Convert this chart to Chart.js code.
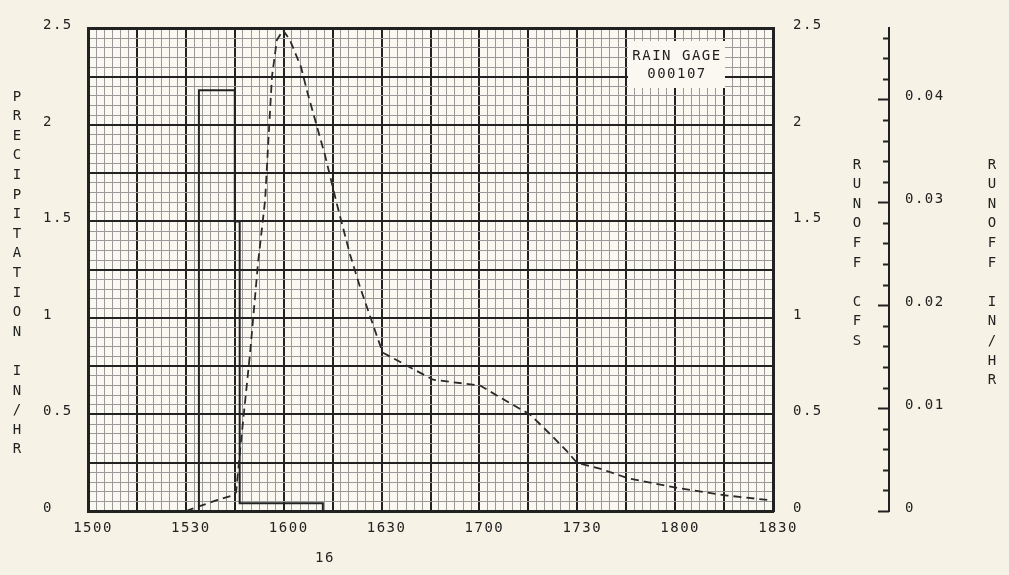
<!DOCTYPE html>
<html>
<head>
<meta charset="utf-8">
<title>Rain gage 000107</title>
<script src="https://cdn.jsdelivr.net/npm/chart.js@4/dist/chart.umd.min.js"></script>
<style>
    html, body { margin: 0; padding: 0; background: #f6f3e6; }
    #chart { display: block; }
</style>
</head>
<body>
<canvas id="chart" width="1009" height="575"></canvas>
<script>
// x values are minutes after 15:00
const xTickLabels = ['1500', '1530', '1600', '1630', '1700', '1730', '1800', '1830'];
const yTickLabels = ['0', '0.5', '1', '1.5', '2', '2.5'];
const y3TickLabels = ['0', '0.01', '0.02', '0.03', '0.04'];

// precipitation, in/hr (stepped)
const precipTimes = [34, 34, 45, 46.5, 72];
const precipValues = [0, 2.18, 1.5, 0.04, 0];

// runoff, cfs
const runoffTimes = [30, 39.5, 44.5, 45.4, 46.6, 49.7, 52.1, 54.3, 55.2, 56.4, 57.9, 59.8,
    61.9, 65.3, 67.4, 72.7, 76.3, 80.3, 83.4, 88.9, 90.4, 92.6, 105.8, 120.2, 127.2,
    135.5, 141.6, 146.8, 149.9, 156.9, 165.5, 180.6, 195.9, 209.1];
const runoffValues = [0, 0.056, 0.082, 0.097, 0.31, 0.82, 1.28, 1.61, 1.89, 2.25, 2.44, 2.49,
    2.44, 2.30, 2.16, 1.84, 1.59, 1.33, 1.16, 0.89, 0.82, 0.80, 0.68, 0.65, 0.58,
    0.50, 0.40, 0.31, 0.25, 0.22, 0.17, 0.12, 0.08, 0.056];

const INK = '#222222';
const MINOR = '#999999';
const PAPER = '#faf8f0';
const FONT = { family: '"DejaVu Sans Mono", monospace', size: 14 };
const SPACING = '1.5px';

const isMajorX = (v) => Math.round(v * 10) % 150 === 0;
const isMajorY = (v) => Math.round(v * 100) % 25 === 0;

// stacked-letter axis titles, rain gage box, day label, inner ticks of the in/hr axis
const decorations = {
    id: 'decorations',
    beforeUpdate(chart) { chart.ctx.letterSpacing = SPACING; },
    beforeDraw(chart) {
        const { ctx, chartArea: a } = chart;
        ctx.letterSpacing = SPACING;
        ctx.save();
        ctx.fillStyle = PAPER;
        ctx.fillRect(a.left, a.top, a.right - a.left, a.bottom - a.top);
        ctx.restore();
    },
    beforeDatasetsDraw(chart) {
        const { ctx } = chart;
        ctx.save();
        ctx.fillStyle = PAPER;
        ctx.fillRect(628, 41, 97, 47);
        ctx.fillStyle = INK;
        ctx.font = '14px "DejaVu Sans Mono"';
        ctx.textAlign = 'center';
        ctx.textBaseline = 'middle';
        ctx.fillText('RAIN GAGE', 677, 56);
        ctx.fillText('000107', 677, 74);
        ctx.restore();
    },
    afterDraw(chart) {
        const { ctx } = chart;
        ctx.save();
        ctx.fillStyle = INK;
        ctx.font = '14px "DejaVu Sans Mono"';
        ctx.letterSpacing = '0px';
        ctx.textAlign = 'center';
        ctx.textBaseline = 'middle';
        const stack = (text, x, y0) => {
            [...text].forEach((ch, i) => ctx.fillText(ch, x, y0 + i * 19.6));
        };
        stack('PRECIPITATION IN/HR', 17, 97);
        stack('RUNOFF CFS', 857, 165);
        stack('RUNOFF IN/HR', 992, 165);
        ctx.letterSpacing = SPACING;
        ctx.fillText('16', 325, 558);

        // tick marks of the in/hr axis point inward (left of its line)
        const s = chart.scales.y3;
        ctx.strokeStyle = INK;
        ctx.lineWidth = 2;
        for (let k = 0; k * 0.002 <= s.max; k++) {
            const py = Math.round(s.getPixelForValue(k * 0.002)) + 0.5;
            const len = k % 5 === 0 ? 11 : 6;
            ctx.beginPath();
            ctx.moveTo(s.left - len, py);
            ctx.lineTo(s.left, py);
            ctx.stroke();
        }
        ctx.restore();
    }
};

new Chart(document.getElementById('chart'), {
    type: 'line',
    data: {
        datasets: [{
            label: 'Precipitation',
            data: precipTimes.map((t, i) => ({ x: t, y: precipValues[i] })),
            yAxisID: 'y',
            stepped: true,
            borderColor: INK,
            borderWidth: 2,
            pointRadius: 0,
            fill: false
        }, {
            label: 'Runoff',
            data: runoffTimes.map((t, i) => ({ x: t, y: runoffValues[i] })),
            yAxisID: 'y2',
            borderColor: '#2a2a2a',
            borderWidth: 1.8,
            borderDash: [8, 5],
            pointRadius: 0,
            tension: 0,
            fill: false
        }]
    },
    options: {
        responsive: false,
        animation: false,
        layout: { padding: { left: 43, top: 21, right: 0, bottom: 0 } },
        plugins: { legend: { display: false }, tooltip: { enabled: false } },
        scales: {
            x: {
                type: 'linear',
                min: 0,
                max: 210,
                afterFit: (s) => { s.height = 64; },
                ticks: {
                    stepSize: 2.5,
                    autoSkip: false,
                    maxRotation: 0,
                    padding: 9,
                    labelOffset: 5,
                    color: INK,
                    font: FONT,
                    callback: (v) => (v % 30 === 0 ? xTickLabels[v / 30] : '')
                },
                grid: {
                    drawTicks: false,
                    color: (c) => (isMajorX(c.tick.value) ? INK : MINOR),
                    lineWidth: (c) => (isMajorX(c.tick.value) ? 2 : 1)
                },
                border: { color: INK, width: 3 }
            },
            y: {
                position: 'left',
                min: 0,
                max: 2.5,
                afterFit: (s) => { s.width = 45; },
                ticks: {
                    stepSize: 0.05,
                    autoSkip: false,
                    crossAlign: 'far',
                    labelOffset: -3,
                    color: INK,
                    font: FONT,
                    callback: (v) => {
                        const k = Math.round(v * 100);
                        return k % 50 === 0 ? yTickLabels[k / 50] : '';
                    }
                },
                grid: {
                    drawTicks: false,
                    color: (c) => (isMajorY(c.tick.value) ? INK : MINOR),
                    lineWidth: (c) => (c.index === 50 ? 3 : isMajorY(c.tick.value) ? 2 : 1)
                },
                border: { color: INK, width: 3 }
            },
            y2: {
                position: 'right',
                min: 0,
                max: 2.5,
                afterFit: (s) => { s.width = 116; },
                ticks: {
                    stepSize: 0.5,
                    padding: 20,
                    labelOffset: -3,
                    crossAlign: 'near',
                    color: INK,
                    font: FONT,
                    callback: (v) => yTickLabels[Math.round(v * 2)]
                },
                grid: { drawOnChartArea: false, drawTicks: false },
                border: { color: INK, width: 3 }
            },
            y3: {
                position: 'right',
                min: 0,
                max: 0.0469,
                afterFit: (s) => { s.width = 120; },
                ticks: {
                    stepSize: 0.01,
                    padding: 16,
                    labelOffset: -3,
                    crossAlign: 'near',
                    color: INK,
                    font: FONT,
                    callback: (v) => {
                        const k = Math.round(v * 100);
                        return Math.abs(v * 100 - k) < 1e-6 && y3TickLabels[k] ? y3TickLabels[k] : '';
                    }
                },
                grid: { display: false, drawTicks: false },
                border: { color: INK, width: 2 }
            }
        }
    },
    plugins: [decorations]
});
</script>
</body>
</html>
